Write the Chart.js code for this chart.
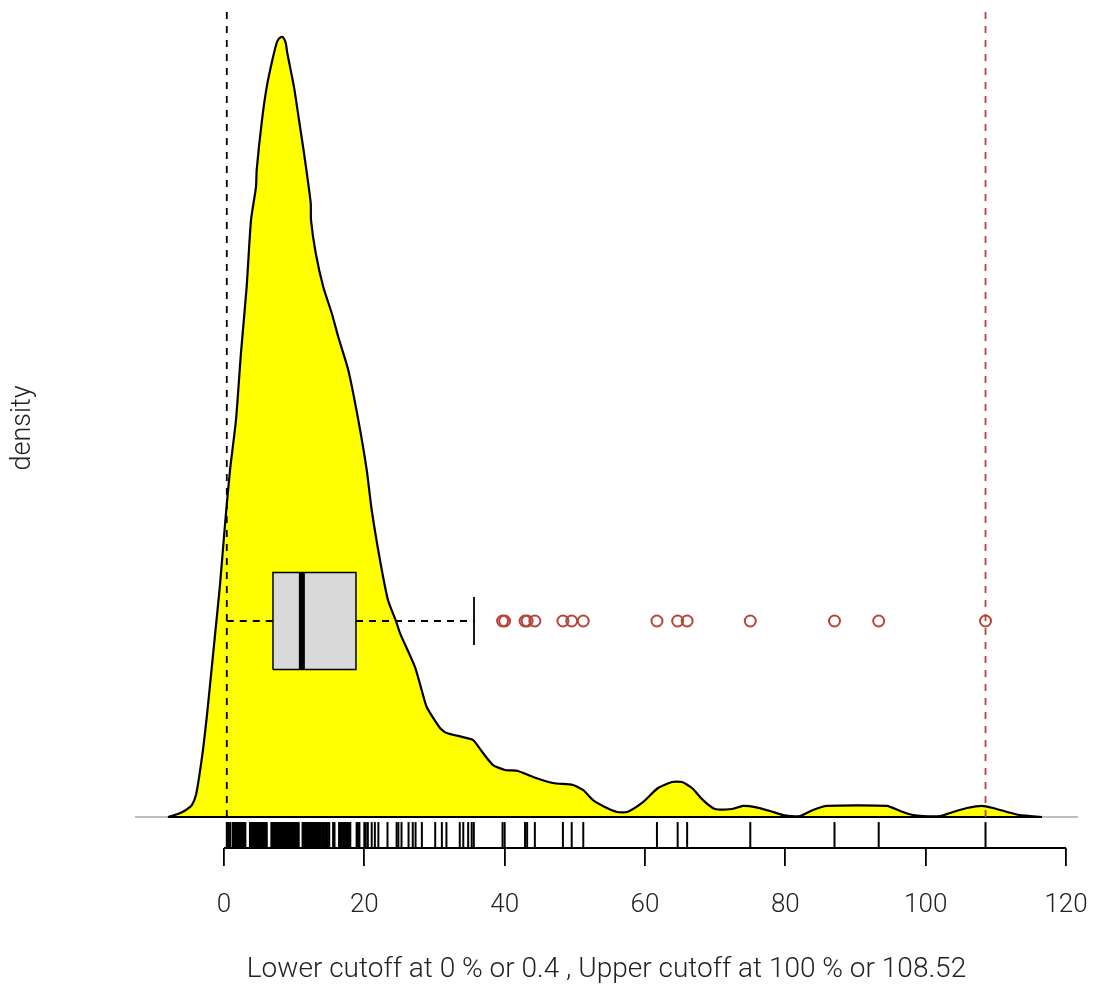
<!DOCTYPE html>
<html>
<head>
<meta charset="utf-8">
<script src="https://cdn.jsdelivr.net/npm/chart.js@4/dist/chart.umd.min.js"></script>
<style>
  html, body { margin: 0; padding: 0; background: #fff; }
</style>
</head>
<body>
<canvas id="densityChart" width="1095" height="987"></canvas>
<script>
// density curve (x, density)
const densX = [-7.98, -6.56, -5.42, -4.56, -3.99, -3.56, -2.99, -2.42, -1.85, -1.28, -0.57, 0.14, 0.86, 1.71,
  2.42, 3.23, 3.85, 4.56, 4.66, 5.42, 6.09, 7.0, 7.6, 8.08, 8.4, 8.8, 9.02, 9.98, 10.69, 11.40, 12.36, 12.40, 13.07,
  14.15, 15.35, 16.29, 17.71, 19.14, 20.34, 21.05, 22.23, 23.37, 24.51, 25.08, 27.22, 28.17, 28.89, 30.78,
  31.74, 34.06, 35.49, 36.91, 38.34, 40.05, 41.90, 44.04, 46.89, 49.74, 51.16, 52.59, 54.58, 56.01, 57.43,
  59.71, 61.85, 63.84, 65.27, 66.69, 68.26, 69.97, 72.40, 73.96, 75.67, 77.81, 79.66, 82.09, 83.94, 85.93,
  94.48, 96.34, 98.19, 99.62, 102.04, 103.89, 105.88, 108.02, 109.59, 111.58, 113.44, 114.86, 116.57];
const densY = [0, 0.00021, 0.0005, 0.00086, 0.00157, 0.00279, 0.00479, 0.00729, 0.01014, 0.013, 0.01657, 0.02086,
  0.02479, 0.02836, 0.03314, 0.03786, 0.04264, 0.045, 0.04621, 0.04979, 0.05214, 0.0543, 0.05543, 0.05571, 0.05571, 0.0553,
  0.05457, 0.05214, 0.04979, 0.04743, 0.04386, 0.04264, 0.04029, 0.03786, 0.036, 0.03429, 0.03193, 0.02836,
  0.02479, 0.02193, 0.01836, 0.0155, 0.014, 0.01314, 0.01071, 0.00907, 0.00786, 0.00636, 0.006, 0.00571,
  0.0055, 0.00457, 0.00371, 0.00336, 0.00329, 0.00286, 0.00243, 0.00229, 0.00193, 0.00121, 0.00064, 0.00036,
  0.00036, 0.00107, 0.00207, 0.0025, 0.0025, 0.00207, 0.00121, 0.00057, 0.00057, 0.00079, 0.00071, 0.00043,
  0.00014, 0.00007, 0.0005, 0.00079, 0.00079, 0.00043, 0.00014, 0.00007, 0.00007, 0.00036, 0.00064, 0.00079,
  0.00064, 0.00036, 0.00014, 0.00007, 0];

// observations (rug)
const rugValues = [0.4, 0.55, 0.7, 0.9, 1.25, 1.4, 1.55, 1.7, 1.85, 2.0, 2.15, 2.3, 2.45, 2.6, 2.75, 2.9, 3.05,
  3.7, 3.85, 4.0, 4.15, 4.3, 4.45, 4.6, 4.75, 4.9, 5.05, 5.2, 5.35, 5.5, 5.65, 5.8, 5.95, 6.1,
  6.75, 6.9, 7.05, 7.2, 7.35, 7.5, 7.65, 7.8, 7.95, 8.1, 8.25, 8.4, 8.55, 8.7, 8.85, 9.0, 9.15, 9.3, 9.45,
  9.6, 9.75, 9.9, 10.05, 10.2, 10.35, 10.5, 10.65, 11.2, 11.35, 11.5, 11.65, 11.8, 11.95, 12.1, 12.25, 12.4,
  12.55, 12.7, 12.85, 13.0, 13.15, 13.3, 13.45, 13.6, 13.8, 14.0, 14.2, 14.4, 14.6, 14.8, 15.0, 15.55, 15.75,
  16.4, 16.6, 16.8, 17.0, 17.2, 17.4, 17.6, 17.8, 18.0, 18.9, 19.1, 19.3, 20.0, 20.2, 20.5, 21.05, 21.5, 22.0,
  23.3, 24.6, 24.85, 25.3, 26.3, 26.9, 27.3, 28.2, 30.1, 31.05, 31.7, 33.6, 34.1, 34.8, 35.3, 35.6,
  39.7, 40.0, 42.9, 43.2, 44.3, 48.3, 49.55, 51.2, 61.7, 64.65, 66.0, 75.0, 87.0, 93.3, 108.52];

const outliers = [39.7, 40.0, 42.9, 43.2, 44.3, 48.3, 49.55, 51.2, 61.7, 64.65, 66.0, 75.0, 87.0, 93.3, 108.52];

// lower whisker, q1, median, q3, upper whisker
const boxStats = [0.4, 6.98, 11.1, 18.81, 35.63];
const cutoffs = [0.4, 108.52];
const xTicks = [0, 20, 40, 60, 80, 100, 120];

const X_MIN = -12.68, X_MAX = 121.7;
const Y_MIN = -0.002214, Y_MAX = 0.05779;
const BOX_Y = 0.014, BOX_H = 0.00346, CAP_H = 0.00171, RUG_Y = -0.00129;
const RED = '#b8443a';
const FONT = 'Roboto';

const [wLo, q1, med, q3, wHi] = boxStats;

new Chart(document.getElementById('densityChart'), {
  type: 'scatter',
  data: {
    datasets: [
      { // outliers
        data: outliers.map(v => ({ x: v, y: BOX_Y })),
        pointStyle: 'circle', pointRadius: 5.5, pointBorderWidth: 2,
        pointBorderColor: RED, pointBackgroundColor: 'rgba(0,0,0,0)', order: 1
      },
      { // median
        data: [{ x: med, y: BOX_Y - BOX_H }, { x: med, y: BOX_Y + BOX_H }],
        showLine: true, borderColor: '#000', borderWidth: 6, pointRadius: 0, order: 2
      },
      { // box
        data: [{ x: q1, y: BOX_Y - BOX_H }, { x: q3, y: BOX_Y - BOX_H }, { x: q3, y: BOX_Y + BOX_H },
               { x: q1, y: BOX_Y + BOX_H }, { x: q1, y: BOX_Y - BOX_H }],
        showLine: true, fill: 'shape', backgroundColor: '#d9d9d9', borderColor: '#000',
        borderWidth: 1.5, pointRadius: 0, order: 3
      },
      { // whiskers
        data: [{ x: wLo, y: BOX_Y }, { x: q1, y: BOX_Y }],
        showLine: true, borderColor: '#000', borderWidth: 1.8, borderDash: [7, 6], pointRadius: 0, order: 4
      },
      {
        data: [{ x: q3, y: BOX_Y }, { x: wHi, y: BOX_Y }],
        showLine: true, borderColor: '#000', borderWidth: 1.8, borderDash: [7, 6], pointRadius: 0, order: 4
      },
      {
        data: [{ x: wHi, y: BOX_Y - CAP_H }, { x: wHi, y: BOX_Y + CAP_H }],
        showLine: true, borderColor: '#000', borderWidth: 1.8, pointRadius: 0, order: 4
      },
      { // cutoff lines
        data: [{ x: cutoffs[0], y: 0 }, { x: cutoffs[0], y: Y_MAX }],
        showLine: true, borderColor: '#000', borderWidth: 1.8, borderDash: [7, 7], pointRadius: 0, order: 5
      },
      {
        data: [{ x: cutoffs[1], y: 0 }, { x: cutoffs[1], y: Y_MAX }],
        showLine: true, borderColor: RED, borderWidth: 1.8, borderDash: [7, 7], pointRadius: 0, order: 5
      },
      { // rug
        data: rugValues.map(v => ({ x: v, y: RUG_Y })),
        pointStyle: 'line', rotation: 90, pointRadius: 13, pointBorderWidth: 2,
        pointBorderColor: '#000', order: 6
      },
      { // axis line 0..120
        data: [{ x: xTicks[0], y: Y_MIN }, { x: xTicks[xTicks.length - 1], y: Y_MIN }],
        showLine: true, borderColor: '#000', borderWidth: 1.8, pointRadius: 0, clip: false, order: 6
      },
      { // black base under the curve
        data: [{ x: densX[0], y: 0 }, { x: densX[densX.length - 1], y: 0 }],
        showLine: true, borderColor: '#000', borderWidth: 2.2, pointRadius: 0, order: 7
      },
      { // density
        data: densX.map((x, i) => ({ x: x, y: densY[i] })),
        showLine: true, fill: 'origin', backgroundColor: '#ffff00', borderColor: '#000',
        borderWidth: 2.2, pointRadius: 0, tension: 0.2, order: 8
      },
      { // gray zero line
        data: [{ x: X_MIN, y: 0 }, { x: X_MAX, y: 0 }],
        showLine: true, borderColor: '#bebebe', borderWidth: 1.8, pointRadius: 0, order: 9
      }
    ]
  },
  options: {
    responsive: false,
    animation: false,
    devicePixelRatio: 1,
    layout: { autoPadding: false, padding: { top: 8, right: 17, left: 0, bottom: 0 } },
    plugins: { legend: { display: false }, tooltip: { enabled: false } },
    scales: {
      x: {
        type: 'linear',
        min: X_MIN, max: X_MAX,
        afterBuildTicks: s => { s.ticks = xTicks.map(v => ({ value: v })); },
        afterFit: s => { s.height = 139; s.paddingLeft = 0; s.paddingRight = 0; },
        border: { display: false },
        grid: { drawOnChartArea: false, drawTicks: true, tickLength: 18, color: '#000', lineWidth: 1.8 },
        ticks: { padding: 24, color: '#222', font: { family: FONT, size: 26, weight: 300 }, maxRotation: 0 },
        title: {
          display: true,
          text: 'Lower cutoff at 0 % or 0.4 , Upper cutoff at 100 % or 108.52',
          color: '#222', font: { family: FONT, size: 28, weight: 300 }, padding: { top: 0, bottom: 0 }
        }
      },
      y: {
        type: 'linear',
        min: Y_MIN, max: Y_MAX,
        afterFit: s => { s.width = 135; s.paddingTop = 0; s.paddingBottom = 0; },
        border: { display: false },
        grid: { display: false },
        ticks: { display: false },
        title: {
          display: true, text: 'density', color: '#222',
          font: { family: FONT, size: 27, weight: 300 }, padding: { top: 7, bottom: 0 }
        }
      }
    }
  }
});
</script>
</body>
</html>
